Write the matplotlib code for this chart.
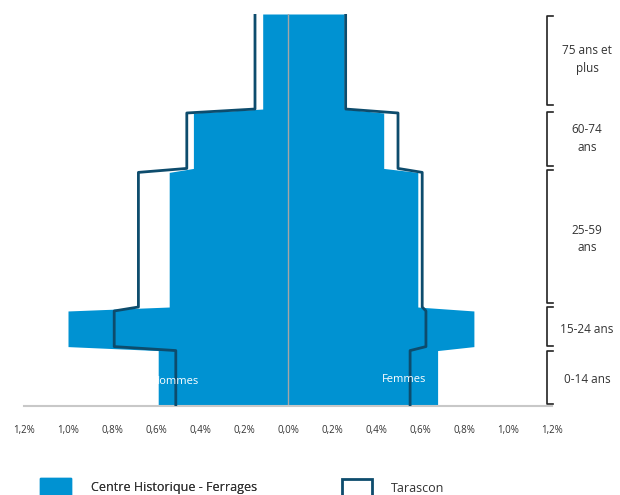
import matplotlib
matplotlib.use('Agg')
import matplotlib.pyplot as plt
import matplotlib.transforms as mtransforms
from matplotlib.patches import Patch
import numpy as np

plt.rcParams['font.family'] = ['Open Sans', 'DejaVu Sans']

# age groups (single years of age 0..99)
group_labels = ['0-14 ans', '15-24 ans', '25-59\nans', '60-74\nans', '75 ans et\nplus']
group_sizes = [15, 10, 35, 15, 25]

# share of population per year of age, in %
centre_hommes = [0.59, 1.00, 0.54, 0.43, 0.115]
centre_femmes = [0.68, 0.845, 0.59, 0.435, 0.255]
tarascon_hommes = [0.51, 0.79, 0.68, 0.46, 0.15]
tarascon_femmes = [0.555, 0.627, 0.61, 0.50, 0.262]

xticks = np.arange(-1.2, 1.21, 0.2)
xticklabels = ['{:.1f}%'.format(abs(v)).replace('.', ',') for v in xticks]

blue = '#0092d2'
dark = '#0d4c6d'

ages = np.arange(sum(group_sizes))
ch = np.repeat(centre_hommes, group_sizes)
cf = np.repeat(centre_femmes, group_sizes)
th = np.repeat(tarascon_hommes, group_sizes)
tf = np.repeat(tarascon_femmes, group_sizes)

fig = plt.figure(figsize=(6.2, 4.95), dpi=100)
ax = fig.add_axes([24 / 620, 89 / 495, 528 / 620, 392 / 495])

ax.fill_betweenx(ages, -ch, cf, color=blue, linewidth=0, zorder=1)
ax.plot(-th, ages, color=dark, lw=2, zorder=3)
ax.plot(tf, ages, color=dark, lw=2, zorder=3)
ax.axvline(0, color='#a6a6a6', lw=1, zorder=2)

ax.set_xlim(-1.2, 1.2)
ax.set_ylim(0, ages[-1])
ax.set_xticks(xticks)
ax.set_xticklabels(xticklabels, fontsize=7, color='#333333')
ax.tick_params(axis='x', length=0, pad=14)
ax.set_yticks([])
for s in ['top', 'left', 'right']:
    ax.spines[s].set_visible(False)
ax.spines['bottom'].set_color('#c8c8c8')
ax.spines['bottom'].set_linewidth(1.5)

ax.text(-0.51, 6.3, 'Hommes', color='white', fontsize=8, ha='center', va='center', zorder=4)
ax.text(0.527, 6.6, 'Femmes', color='white', fontsize=8, ha='center', va='center', zorder=4)

# brackets for age groups on the right
brackets = [(0.5, 13.9), (15.2, 25.0), (26.0, 59.6), (60.6, 74.2), (76.0, 98.5)]
label_y = [6.8, 19.2, 42.2, 67.5, 87.5]
trans = mtransforms.blended_transform_factory(fig.transFigure, ax.transData)
for (lo, hi), lab, ly in zip(brackets, group_labels, label_y):
    ax.plot([553 / 620, 547 / 620, 547 / 620, 553 / 620], [lo, lo, hi, hi],
            color='#222222', lw=1.2, transform=trans, clip_on=False)
    ax.text(587 / 620, ly, lab, transform=trans, ha='center', va='center',
            fontsize=8.5, color='#333333', linespacing=1.45)

# legend
leg1 = fig.legend(handles=[Patch(facecolor=blue, edgecolor=blue)],
                  labels=['Centre Historique - Ferrages'], loc='upper left',
                  bbox_to_anchor=(40 / 620, 1 - 478 / 495), frameon=False, borderpad=0,
                  borderaxespad=0, fontsize=9, handlelength=2.5, handleheight=1.8,
                  handletextpad=1.6, labelcolor='#333333')
fig.add_artist(leg1)
fig.legend(handles=[Patch(facecolor='white', edgecolor=dark, linewidth=2)],
           labels=['Tarascon'], loc='upper left',
           bbox_to_anchor=(342 / 620, 1 - 479 / 495), frameon=False, borderpad=0,
           borderaxespad=0, fontsize=9, handlelength=2.4, handleheight=1.8,
           handletextpad=1.5, labelcolor='#333333')

plt.savefig('out.png', dpi=100, facecolor='w')
